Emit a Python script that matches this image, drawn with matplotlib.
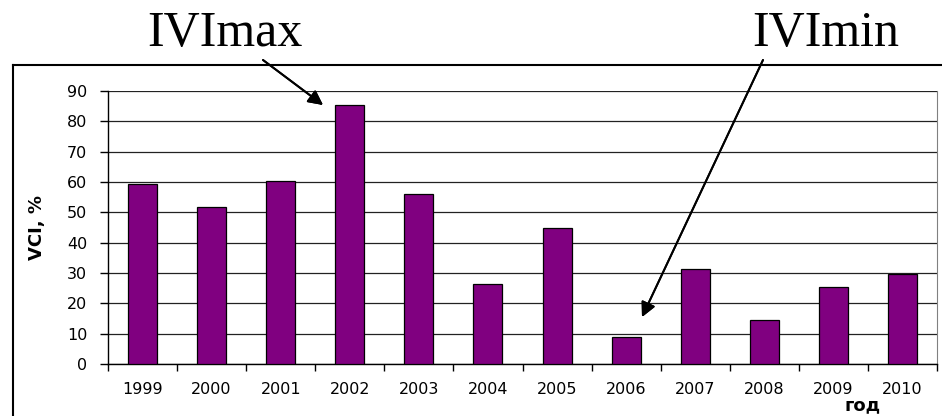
import matplotlib

matplotlib.use("Agg")
import matplotlib.pyplot as plt
from matplotlib.lines import Line2D

years = ["1999", "2000", "2001", "2002", "2003", "2004",
         "2005", "2006", "2007", "2008", "2009", "2010"]
vci = [59.2, 51.9, 60.2, 85.4, 56.0, 26.5, 44.7, 8.9, 31.3, 14.5, 25.3, 29.7]
y_ticks = [0, 10, 20, 30, 40, 50, 60, 70, 80, 90]

W, H = 942, 416
fig = plt.figure(figsize=(W / 100, H / 100), dpi=100)
fig.patch.set_facecolor("white")

ax = fig.add_axes([108 / W, 1 - 364 / H, (937 - 108) / W, (364 - 91) / H])

x = list(range(len(years)))
ax.bar(x, vci, width=0.42, color="#800080", edgecolor="black", linewidth=0.9, zorder=3)

ax.set_xlim(-0.5, len(years) - 0.5)
ax.set_ylim(0, 90)
ax.set_yticks(y_ticks)
ax.yaxis.grid(True, color="#222222", linewidth=0.9, zorder=0)

# category ticks sit on the boundaries between years
ax.set_xticks([i - 0.5 for i in range(len(years) + 1)])
ax.set_xticklabels([])
ax.set_xticks(x, minor=True)
ax.set_xticklabels(years, minor=True)
ax.tick_params(axis="x", which="minor", length=0, pad=13, labelsize=11.5)
ax.tick_params(axis="x", which="major", length=5, width=1, direction="out")
ax.tick_params(axis="y", length=6, width=1, direction="out", pad=9, labelsize=11.5)

ax.spines["top"].set_visible(False)
ax.spines["right"].set_color("#808080")
ax.spines["left"].set_linewidth(1)
ax.spines["bottom"].set_linewidth(1)

ax.set_ylabel("VCI, %", fontsize=13, fontweight="bold")
ax.yaxis.set_label_coords((37 - 108) / (937 - 108), 0.5)
ax.yaxis.label.set_va("center")
fig.text(863 / W, 1 - 405 / H, "год", fontsize=13, fontweight="bold",
         ha="center", va="center")

# outer chart frame
fig.add_artist(Line2D([13 / W, 13 / W], [0, 1 - 65 / H], color="black", lw=1.5,
                      transform=fig.transFigure))
fig.add_artist(Line2D([13 / W, 1], [1 - 65 / H, 1 - 65 / H], color="black", lw=1.5,
                      transform=fig.transFigure))

# callouts
serif = ["Liberation Serif", "DejaVu Serif"]
fig.text(225 / W, 1 - 46 / H, "IVImax", fontsize=36, family=serif, ha="center",
         va="baseline")
fig.text(826 / W, 1 - 46 / H, "IVImin", fontsize=36, family=serif, ha="center",
         va="baseline")

arrow = dict(arrowstyle="-|>", color="black", lw=1.4, mutation_scale=22,
             shrinkA=0, shrinkB=0)
fig.add_artist(plt.annotate("", xy=(323, H - 105), xytext=(263, H - 60),
                            xycoords="figure pixels", textcoords="figure pixels",
                            arrowprops=arrow))
fig.add_artist(plt.annotate("", xy=(642, H - 317), xytext=(763, H - 60),
                            xycoords="figure pixels", textcoords="figure pixels",
                            arrowprops=arrow))

fig.savefig("out.png", dpi=100, facecolor="white")
